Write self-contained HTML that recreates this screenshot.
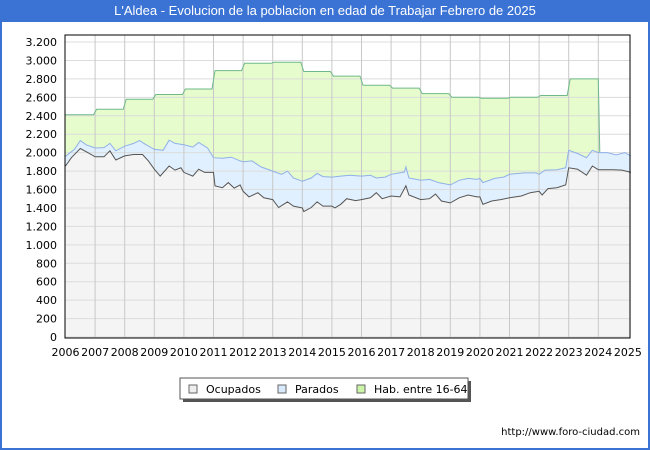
<!DOCTYPE html>
<html><head><meta charset="utf-8"><style>
body{margin:0;width:650px;height:450px;overflow:hidden;font-family:"Liberation Sans","DejaVu Sans",sans-serif;background:#fff}
#wrap{position:absolute;left:0;top:0;width:646px;height:448px;border:2px solid #3a73d4;border-top:none;background:#fff}
#title{position:absolute;left:0;top:0;width:650px;height:22px;background:#3a73d4;color:#fff;font-size:13px;line-height:22px;text-align:center}
#url{position:absolute;right:10px;top:427px;font-size:10px;font-family:"DejaVu Sans",sans-serif;color:#000}
</style></head><body>
<div id="wrap"></div>
<div id="title">L'Aldea - Evolucion de la poblacion en edad de Trabajar Febrero de 2025</div>
<svg id="svg" width="650" height="450" style="position:absolute;left:0;top:0"></svg>
<div id="url">http://www.foro-ciudad.com</div>
<script>
const yTicks=[0,200,400,600,800,1000,1200,1400,1600,1800,2000,2200,2400,2600,2800,3000,3200];
const yTickLabels=["0","200","400","600","800","1.000","1.200","1.400","1.600","1.800","2.000","2.200","2.400","2.600","2.800","3.000","3.200"];
const years=[2006,2007,2008,2009,2010,2011,2012,2013,2014,2015,2016,2017,2018,2019,2020,2021,2022,2023,2024,2025];
const habYears=[2006,2007,2008,2009,2010,2011,2012,2013,2014,2015,2016,2017,2018,2019,2020,2021,2022,2023];
const habValues=[2410,2470,2580,2630,2690,2890,2970,2980,2880,2830,2730,2700,2640,2600,2590,2600,2620,2800];
const parT=[2006.0,2006.3,2006.5,2006.7,2007.0,2007.3,2007.5,2007.7,2008.0,2008.3,2008.5,2008.7,2009.0,2009.3,2009.5,2009.7,2010.0,2010.3,2010.5,2010.8,2011.0,2011.3,2011.6,2011.9,2012.0,2012.3,2012.6,2013.0,2013.3,2013.5,2013.7,2014.0,2014.3,2014.5,2014.7,2015.0,2015.3,2015.6,2016.0,2016.3,2016.5,2016.8,2017.0,2017.45,2017.5,2017.6,2018.0,2018.3,2018.6,2019.0,2019.3,2019.6,2019.9,2020.0,2020.1,2020.5,2020.8,2021.0,2021.5,2021.9,2022.0,2022.2,2022.6,2022.9,2023.0,2023.3,2023.6,2023.8,2024.0,2024.3,2024.6,2024.9,2025.1];
const parV=[1960,2035,2130,2085,2050,2055,2100,2020,2070,2100,2130,2090,2035,2025,2135,2100,2085,2060,2110,2050,1945,1940,1950,1910,1900,1910,1845,1800,1765,1800,1725,1690,1725,1775,1740,1735,1745,1755,1745,1755,1725,1735,1765,1790,1845,1725,1700,1710,1675,1650,1700,1720,1710,1720,1675,1720,1735,1765,1780,1780,1765,1810,1815,1835,2025,1990,1945,2025,2000,2000,1975,2000,1965];
const ocuT=[2006.0,2006.2,2006.5,2006.7,2007.0,2007.3,2007.5,2007.7,2008.0,2008.3,2008.6,2008.8,2009.0,2009.2,2009.5,2009.7,2009.9,2010.0,2010.3,2010.5,2010.7,2011.0,2011.05,2011.3,2011.5,2011.7,2011.9,2012.0,2012.2,2012.5,2012.7,2013.0,2013.2,2013.5,2013.7,2014.0,2014.05,2014.3,2014.5,2014.7,2015.0,2015.1,2015.3,2015.5,2015.8,2016.0,2016.3,2016.5,2016.7,2017.0,2017.3,2017.5,2017.6,2018.0,2018.3,2018.5,2018.7,2019.0,2019.3,2019.6,2019.9,2020.0,2020.1,2020.4,2020.7,2021.0,2021.4,2021.7,2022.0,2022.1,2022.3,2022.6,2022.9,2023.0,2023.3,2023.6,2023.8,2024.0,2024.5,2024.8,2025.1];
const ocuV=[1855,1945,2045,2010,1955,1955,2020,1920,1965,1980,1980,1910,1820,1745,1855,1810,1835,1785,1745,1820,1785,1785,1640,1620,1675,1615,1650,1580,1520,1565,1510,1490,1405,1465,1420,1400,1360,1405,1465,1420,1420,1400,1440,1500,1480,1490,1510,1565,1500,1530,1520,1640,1540,1490,1500,1550,1475,1455,1510,1540,1520,1520,1440,1475,1490,1510,1530,1565,1580,1540,1610,1620,1650,1835,1820,1755,1855,1815,1815,1810,1785];

const L=65,R=630,T=35,B=337;
const X=t=>65.5+(t-2006)*29.6;
const Y=v=>B-v*295/3200;
const svg=document.getElementById('svg');const NS='http://www.w3.org/2000/svg';
function mk(tag,a,name){const e=document.createElementNS(NS,tag);for(const k in a)e.setAttribute(k,a[k]);


svg.appendChild(e);return e;}
mk('rect',{x:L,y:T,width:R-L,height:B-T+1,fill:'#fff'},'plot-background');
// interpolate parados
function interp(ts,vs,t){if(t<=ts[0])return vs[0];for(let i=1;i<ts.length;i++){if(t<=ts[i]){const f=(t-ts[i-1])/(ts[i]-ts[i-1]);return vs[i-1]+f*(vs[i]-vs[i-1]);}}return vs[vs.length-1];}
// hab step path
let hp=[];
for(let i=0;i<habYears.length;i++){const y0=habYears[i]+(i?0.05:0),y1=habYears[i]+0.95;hp.push([X(y0),Y(habValues[i])],[X(y1),Y(habValues[i])]);}
const endH=2024.0;hp.push([X(endH),Y(habValues[habValues.length-1])],[X(endH+0.05),Y(interp(parT,parV,endH+0.05))]);
let parPts=parT.map((t,i)=>[X(t),Y(parV[i])]);
let ocuPts=ocuT.map((t,i)=>[X(t),Y(ocuV[i])]);
const pstr=p=>p.map(q=>q[0].toFixed(1)+','+q[1].toFixed(1)).join(' ');
// green area: hab line then back along parados up to endH
const parBack=parPts.filter(p=>p[0]<=X(endH+0.05)).reverse();
mk('polygon',{points:pstr(hp.concat(parBack)),fill:'#e6fccc'},'hab-area');
mk('polygon',{points:pstr(parPts.concat([[X(2025.1),B],[X(2006),B]])),fill:'#e1f0fe'},'parados-area');
mk('polygon',{points:pstr(ocuPts.concat([[X(2025.1),B],[X(2006),B]])),fill:'#f4f4f4'},'ocupados-area');
// grid
yTicks.forEach((v,i)=>{mk('line',{x1:L,x2:R,y1:Y(v),y2:Y(v),stroke:'#dcdcdc','stroke-width':1},'y-gridline');
const t=mk('text',{x:57,y:Y(v)+4,'text-anchor':'end','font-size':11,fill:'#000','font-family':'DejaVu Sans, sans-serif'},'y-tick-label');t.textContent=yTickLabels[i];});
years.forEach(yr=>{if(yr>2006&&yr<2025)mk('line',{x1:X(yr),x2:X(yr),y1:T,y2:B,stroke:'#c8c8c8','stroke-width':1},'x-gridline');
const t=mk('text',{x:X(yr),y:356,'text-anchor':'middle','font-size':11,fill:'#000','font-family':'DejaVu Sans, sans-serif'},'x-tick-label');t.textContent=yr;});
mk('polyline',{points:pstr(hp),fill:'none',stroke:'#6fb98a','stroke-width':1},'hab-line');
mk('polyline',{points:pstr(parPts),fill:'none',stroke:'#8fb0e8','stroke-width':1},'parados-line');
mk('polyline',{points:pstr(ocuPts),fill:'none',stroke:'#555','stroke-width':1},'ocupados-line');
mk('rect',{x:L,y:T,width:R-L,height:B-T+1,fill:'none',stroke:'#000','stroke-width':1},'plot-border');
// legend
mk('rect',{x:183,y:381,width:288,height:21,fill:'#555'},'legend-shadow');
mk('rect',{x:180,y:378,width:288,height:21,fill:'#fff',stroke:'#555','stroke-width':1},'legend-box');
[['Ocupados','#eeeeee',189],['Parados','#d8eafc',278],['Hab. entre 16-64','#ccf5a8',357]].forEach(([n,c,x])=>{
mk('rect',{x:x,y:385,width:8,height:8,fill:c,stroke:'#666','stroke-width':1},'legend-swatch-'+n.toLowerCase().replace(/[^a-z0-9]+/g,'-'));
const t=mk('text',{x:x+17,y:393,'font-size':11,fill:'#000','font-family':'DejaVu Sans, sans-serif'},'legend-label');t.textContent=n;});
</script>
</body></html>
